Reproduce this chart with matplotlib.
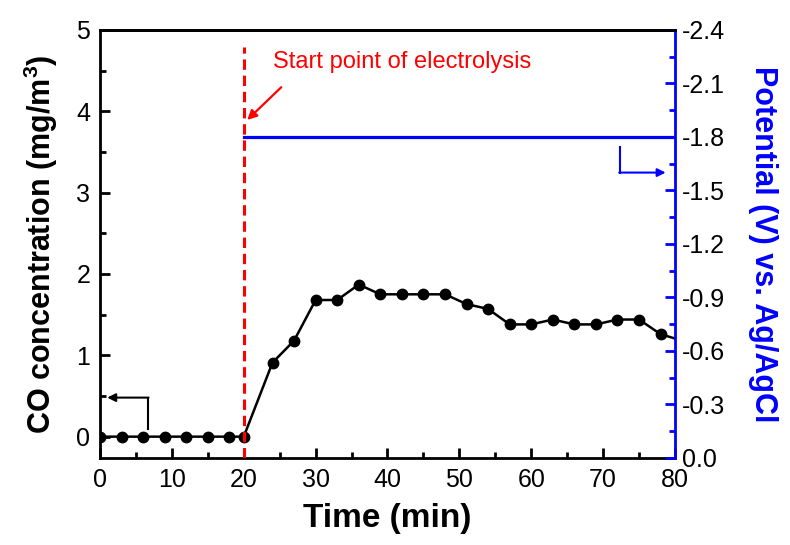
import matplotlib
matplotlib.use('Agg')
from matplotlib import pyplot as plt
from matplotlib.ticker import MultipleLocator, FormatStrFormatter

plt.rcParams['font.family'] = ['Liberation Sans', 'DejaVu Sans']
plt.rcParams['axes.unicode_minus'] = False
plt.rcParams['mathtext.fontset'] = 'custom'
plt.rcParams['mathtext.rm'] = 'Liberation Sans'
plt.rcParams['mathtext.bf'] = 'Liberation Sans:bold'

# CO concentration (mg/m3) vs time (min)
time = [0, 3, 6, 9, 12, 15, 18, 20, 24, 27, 30, 33, 36, 39, 42, 45, 48,
        51, 54, 57, 60, 63, 66, 69, 72, 75, 78, 81]
co = [0, 0, 0, 0, 0, 0, 0, 0, 0.91, 1.18, 1.68, 1.68, 1.87, 1.75, 1.75,
      1.75, 1.75, 1.63, 1.57, 1.38, 1.38, 1.44, 1.38, 1.38, 1.44, 1.44,
      1.26, 1.18]

# applied potential (V vs. Ag/AgCl)
pot_time = [20, 80]
potential = [-1.8, -1.8]

start_time = 20

fig = plt.figure(figsize=(7.9, 5.45), dpi=100)
ax1 = fig.add_axes([0.1266, 0.160, 0.7278, 0.785])
ax2 = ax1.twinx()

ax1.plot(time, co, color='black', lw=1.8, marker='o', ms=7.5)
ax2.plot(pot_time, potential, color='blue', lw=2.3)
ax2.axvline(start_time, ymin=0, ymax=0.96, color='red', ls=(0, (3.4, 1.9)), lw=2.2)

ax1.set_xlim(0, 80)
ax1.set_ylim(-0.26, 5)
ax2.set_ylim(0, -2.4)

ax1.xaxis.set_major_locator(MultipleLocator(10))
ax1.xaxis.set_minor_locator(MultipleLocator(5))
ax1.yaxis.set_major_locator(MultipleLocator(1))
ax1.yaxis.set_minor_locator(MultipleLocator(0.5))
ax2.yaxis.set_major_locator(MultipleLocator(0.3))
ax2.yaxis.set_minor_locator(MultipleLocator(0.15))
ax2.yaxis.set_major_formatter(FormatStrFormatter('%.1f'))

ax1.tick_params(which='both', direction='in', width=2, labelsize=18,
                top=False, right=False, pad=7)
ax1.tick_params(which='major', length=7)
ax1.tick_params(which='minor', length=4)
ax2.tick_params(which='both', direction='in', width=2, labelsize=18,
                color='blue', labelcolor='black', pad=5)
ax2.tick_params(which='major', length=7)
ax2.tick_params(which='minor', length=4)

for s in ax1.spines.values():
    s.set_linewidth(2)
ax1.spines['right'].set_visible(False)
for s in ax2.spines.values():
    s.set_linewidth(2)
ax2.spines['right'].set_color('blue')
ax2.spines['left'].set_visible(False)
ax2.spines['bottom'].set_visible(False)

ax1.set_xlabel('Time (min)', fontsize=24, fontweight='bold', labelpad=8)
ax1.set_ylabel(r'CO concentration (mg/m$^\mathbf{3}$)', fontsize=22,
               fontweight='bold', labelpad=12)
ax2.set_ylabel('Potential (V) vs. Ag/AgCl', fontsize=22, fontweight='bold',
               color='blue', rotation=270, labelpad=38)

# annotations
ax1.text(24.0, 4.61, 'Start point of electrolysis', color='red',
         fontsize=17, va='center', ha='left')
ax1.annotate('', xy=(20.2, 3.87), xytext=(25.5, 4.32),
             arrowprops=dict(arrowstyle='-|>', color='red', lw=1.6,
                             mutation_scale=14))

ax1.plot([6.7, 6.7], [0.09, 0.48], color='black', lw=1.5)
ax1.annotate('', xy=(1.0, 0.48), xytext=(6.75, 0.48),
             arrowprops=dict(arrowstyle='-|>', color='black', lw=1.5,
                             mutation_scale=12, shrinkA=0, shrinkB=0))

ax2.plot([72.3, 72.3], [-1.745, -1.60], color='blue', lw=1.5)
ax2.annotate('', xy=(78.7, -1.60), xytext=(72.25, -1.60),
             arrowprops=dict(arrowstyle='-|>', color='blue', lw=1.5,
                             mutation_scale=12, shrinkA=0, shrinkB=0))

fig.savefig('out.png', dpi=100)
